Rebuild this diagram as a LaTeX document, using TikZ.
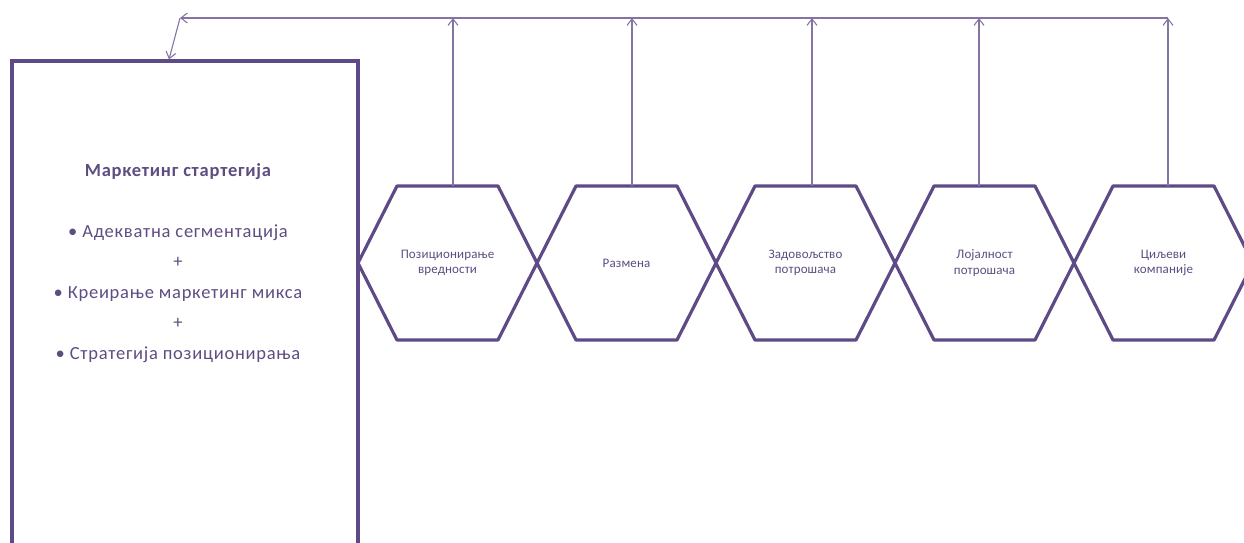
\documentclass[tikz,border=0pt]{standalone}
\usepackage{fontspec}
\setmainfont{Carlito}
\usetikzlibrary{arrows.meta,calc}
\definecolor{plum}{HTML}{5E4A86}
\definecolor{thinline}{HTML}{8474A4}
\definecolor{ink}{HTML}{5E4D80}

\begin{document}
\begin{tikzpicture}[x=1pt,y=-1pt,
  frame/.style={draw=plum,line width=3.2pt},
  hexcell/.style={minimum width=179pt,minimum height=154pt,inner sep=0pt,outer sep=0pt,
    align=center,text=ink,font=\fontsize{13}{15.5}\selectfont\addfontfeature{LetterSpace=1}},
  link/.style={draw=thinline,line width=1.1pt,-{Straight Barb[length=6.5pt,width=10pt]}}]

\begin{scope}
  \clip (0,0) rectangle (1244,543);

  % strategy box (runs past the lower edge)
  \node[frame, minimum width=346pt, minimum height=560pt, inner sep=0pt] (strat) at (185,341) {};
  \node[text=ink, align=center, font=\fontsize{18.5}{30.4}\selectfont\addfontfeature{LetterSpace=4}]
    (stratText) at (178,263)
    {{\bfseries Маркетинг стартегија}\\[30.4pt]
     • Адекватна сегментација\\
     +\\
     • Креирање маркетинг микса\\
     +\\
     • Стратегија позиционирања};

  % chain of hexagons
  \node[hexcell] (h1) at (447.5,263) {Позиционирање\\вредности};
  \node[hexcell] (h2) at (626.5,263) {Размена};
  \node[hexcell] (h3) at (805.5,263) {Задовољство\\потрошача};
  \node[hexcell] (h4) at (984.5,263) {Лојалност\\потрошача};
  \node[hexcell] (h5) at (1163.5,263) {Циљеви\\компаније};

  \foreach \i in {1,...,5}
    \draw[frame, line join=round] (h\i.west) -- ([xshift=39pt]h\i.north west)
      -- ([xshift=-39pt]h\i.north east) -- (h\i.east)
      -- ([xshift=-39pt]h\i.south east) -- ([xshift=39pt]h\i.south west) -- cycle;

  % feedback bus along the top
  \coordinate (bend) at (180,18);
  \coordinate (t1) at (453,18);
  \coordinate (t2) at (632,18);
  \coordinate (t3) at (812,18);
  \coordinate (t4) at (979,18);
  \coordinate (t5) at (1168,18);

  \foreach \i in {1,...,5}
    \draw[link] (h\i.north -| t\i) -- (t\i);
  \draw[link] (t5) -- (bend);
  \draw[link] (bend) -- ([xshift=-16pt]strat.north);
\end{scope}

\pgfresetboundingbox
\useasboundingbox (0,0) rectangle (1244,543);
\end{tikzpicture}
\end{document}
